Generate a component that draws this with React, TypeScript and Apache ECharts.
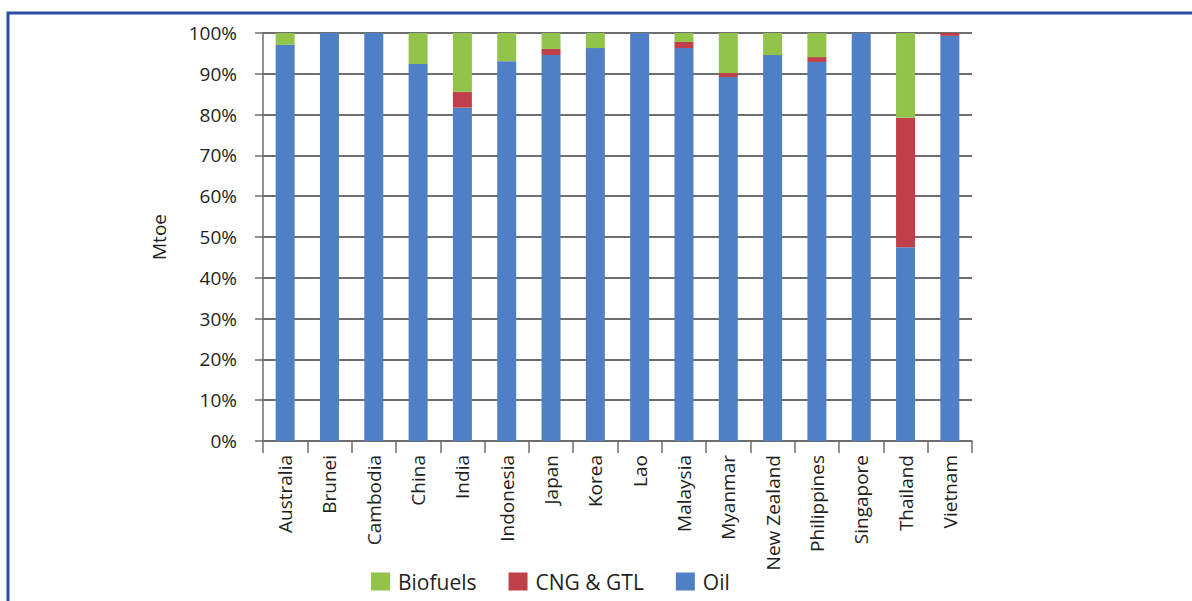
import React, { useEffect, useRef } from "react";
import * as echarts from "echarts";

const categories = ["Australia", "Brunei", "Cambodia", "China", "India", "Indonesia", "Japan", "Korea", "Lao", "Malaysia", "Myanmar", "New Zealand", "Philippines", "Singapore", "Thailand", "Vietnam"];
const oil = [97.1, 100, 100, 92.4, 81.7, 93.1, 94.6, 96.3, 100, 96.3, 89.2, 94.6, 92.9, 100, 47.5, 99.3];
const cngGtl = [0, 0, 0, 0, 3.9, 0, 1.5, 0, 0, 1.5, 1.0, 0, 1.2, 0, 31.7, 0.7];
const biofuels = [2.9, 0, 0, 7.6, 14.4, 6.9, 3.9, 3.7, 0, 2.2, 9.8, 5.4, 5.9, 0, 20.8, 0];
const yTicks = { min: 0, max: 100, interval: 10 };

const FONT = "'Open Sans', 'Noto Sans', sans-serif";
const TXT = "#231f20";
const GRID = "#6e6e6e";

export default function App() {
  const ref = useRef<HTMLDivElement>(null);
  useEffect(() => {
    if (!ref.current) return;
    const chart = echarts.init(ref.current, null, { renderer: "svg" });
    chart.setOption({
      animation: false,
      textStyle: { fontFamily: FONT },
      grid: { left: 263, right: 220, top: 33, bottom: 160, containLabel: false },
      graphic: [
        {
          type: "rect",
          shape: { x: 8, y: 13, width: 1400, height: 800 },
          style: { fill: "none", stroke: "#2c4fa6", lineWidth: 3 },
          silent: true,
        },
      ],
      legend: {
        left: 366,
        top: 566,
        itemWidth: 19,
        itemHeight: 18,
        itemGap: 32,
        icon: "rect",
        textStyle: { fontFamily: FONT, fontSize: 21, lineHeight: 20, color: TXT, padding: [0, 0, 0, 3] },
        data: ["Biofuels", "CNG & GTL", "Oil"],
      },
      xAxis: {
        type: "category",
        data: categories,
        axisLine: { show: true, lineStyle: { color: GRID, width: 1.5 } },
        axisTick: { show: true, length: 12, alignWithLabel: false, lineStyle: { color: GRID, width: 1.5 } },
        axisLabel: { rotate: 90, margin: 14, fontFamily: FONT, fontSize: 19, color: TXT, interval: 0 },
      },
      yAxis: {
        type: "value",
        min: yTicks.min,
        max: yTicks.max,
        interval: yTicks.interval,
        name: "Mtoe",
        nameLocation: "middle",
        nameGap: 95,
        nameRotate: 90,
        nameTextStyle: { fontFamily: FONT, fontSize: 19, color: TXT },
        axisLine: { show: true, lineStyle: { color: GRID, width: 1.5 } },
        axisTick: { show: true, length: 8, lineStyle: { color: GRID, width: 1.5 } },
        axisLabel: { formatter: "{value}%", margin: 26, fontFamily: FONT, fontSize: 19, color: TXT },
        splitLine: { show: true, lineStyle: { color: GRID, width: 2 } },
      },
      series: [
        { name: "Oil", type: "bar", stack: "a", data: oil, barWidth: 19, itemStyle: { color: "#4f80c5" } },
        { name: "CNG & GTL", type: "bar", stack: "a", data: cngGtl, barWidth: 19, itemStyle: { color: "#c0404a" } },
        { name: "Biofuels", type: "bar", stack: "a", data: biofuels, barWidth: 19, itemStyle: { color: "#92c34a" } },
      ],
    });
    return () => chart.dispose();
  }, []);
  return (
    <div
      ref={ref}
      style={{ position: "fixed", left: 0, top: 0, width: 1192, height: 601, background: "#fff" }}
    />
  );
}
